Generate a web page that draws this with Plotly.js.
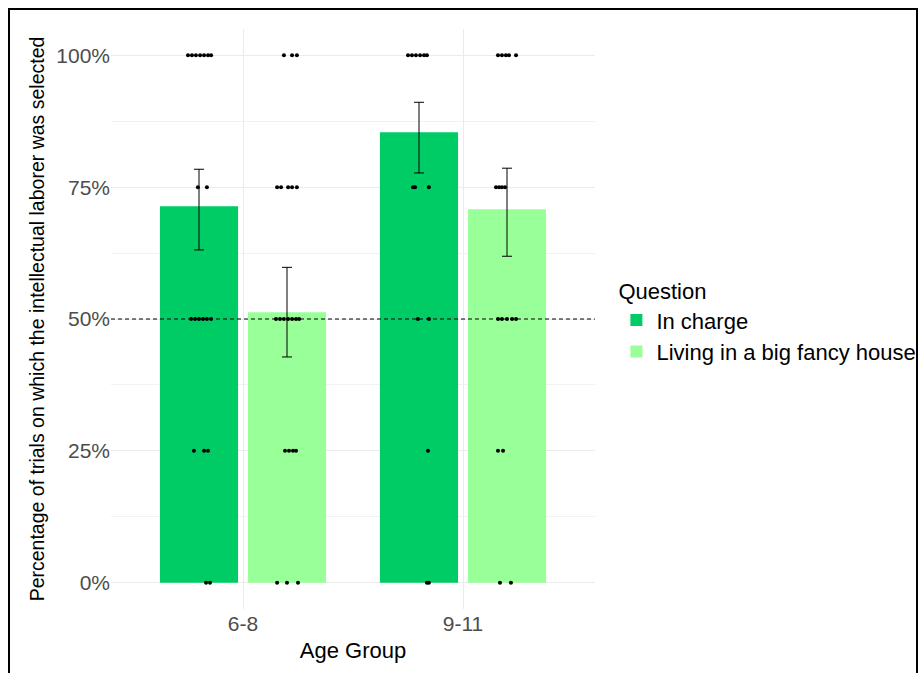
<!DOCTYPE html>
<html>
<head>
<meta charset="utf-8">
<script src="https://cdn.plot.ly/plotly-3.0.1.min.js"></script>
<style>
  html, body { margin: 0; padding: 0; background: #fff; overflow: hidden; }
  #frame { position: absolute; left: 8px; top: 8px; width: 910px; height: 700px; border: 2px solid #000; box-sizing: border-box; pointer-events: none; z-index: 5; }
  #chart { position: absolute; left: 0; top: 0; width: 920px; height: 673px; }
</style>
</head>
<body>
<div id="chart"></div>
<div id="frame"></div>
<script>
// ---- data ----
const ageGroups = ['6-8', '9-11'];
const questions = ['In charge', 'Living in a big fancy house'];
const colors = ['#00CC66', '#99FF99'];

const meanInCharge = [0.714, 0.854];
const lowInCharge  = [0.631, 0.777];
const highInCharge = [0.784, 0.911];

const meanLiving = [0.513, 0.708];
const lowLiving  = [0.428, 0.619];
const highLiving = [0.598, 0.786];

const yTickVals = [0, 0.25, 0.5, 0.75, 1];
const yTickText = ['0%', '25%', '50%', '75%', '100%'];

// individual participant scores (value) and their horizontal jitter (category units)
const dotsInCharge68 = [1,1,1,1,1,1,1, .75,.75, .5,.5,.5,.5,.5,.5, .25,.25,.25, 0,0];
const jitInCharge68  = [-.050,-.032,-.014,.005,.023,.041,.055, -.005,.036, -.036,-.018,0,.018,.036,.055, -.023,.023,.041, .032,.050];
const dotsLiving68   = [1,1,1, .75,.75,.75,.75,.75, .5,.5,.5,.5,.5,.5,.5, .25,.25,.25,.25, 0,0,0];
const jitLiving68    = [-.014,.023,.045, -.045,-.027,.005,.023,.045, -.050,-.032,-.014,.005,.023,.041,.055, -.009,.009,.027,.041, -.045,0,.050];
const dotsInCharge911 = [1,1,1,1,1,1, .75,.75,.75, .5,.5, .25, 0,0];
const jitInCharge911  = [-.050,-.032,-.014,.005,.023,.036, -.027,-.018,.045, -.005,.045, .041, .036,.045];
const dotsLiving911   = [1,1,1,1,1, .75,.75,.75,.75, .5,.5,.5,.5,.5, .25,.25, 0,0];
const jitLiving911    = [-.041,-.023,-.005,.009,.041, -.050,-.036,-.023,-.009, -.041,-.023,0,.023,.041, -.041,-.018, -.032,.018];

// ---- build ----
const dodge = 0.2;
const barWidth = 0.355;
const groupPos = ageGroups.map((_, i) => i);

function barTrace(name, means, lows, highs, color, shift) {
  return {
    type: 'bar', name: name,
    x: groupPos.map(p => p + shift), y: means,
    width: barWidth,
    marker: { color: color, line: { width: 0 } },
    error_y: {
      type: 'data', symmetric: false,
      array: highs.map((h, i) => h - means[i]),
      arrayminus: lows.map((l, i) => means[i] - l),
      color: '#000', thickness: 1, width: 5
    },
    hoverinfo: 'skip'
  };
}
function dotTrace(vals, jit, gIdx, shift) {
  return {
    type: 'scatter', mode: 'markers', showlegend: false,
    x: vals.map((_, i) => gIdx + shift + jit[i]), y: vals,
    marker: { color: '#000', size: 4 },
    hoverinfo: 'skip'
  };
}

const traces = [
  barTrace(questions[0], meanInCharge, lowInCharge, highInCharge, colors[0], -dodge),
  barTrace(questions[1], meanLiving, lowLiving, highLiving, colors[1], dodge),
  dotTrace(dotsInCharge68, jitInCharge68, 0, -dodge),
  dotTrace(dotsLiving68, jitLiving68, 0, dodge),
  dotTrace(dotsInCharge911, jitInCharge911, 1, -dodge),
  dotTrace(dotsLiving911, jitLiving911, 1, dodge)
];

const layout = {
  width: 920, height: 673,
  paper_bgcolor: '#fff', plot_bgcolor: '#fff',
  margin: { l: 111, r: 325, t: 29, b: 64 },
  font: { family: '"Liberation Sans", Arial, sans-serif', color: '#000' },
  barmode: 'overlay',
  showlegend: true,
  xaxis: {
    range: [-0.6, 1.6],
    tickvals: groupPos, ticktext: ageGroups,
    showgrid: true, gridcolor: '#ebebeb', gridwidth: 1,
    zeroline: false, showline: false, ticks: '',
    tickfont: { size: 21, color: '#4d4d4d' },
    title: { text: 'Age Group', font: { size: 22, color: '#000' }, standoff: 8 },
    fixedrange: true
  },
  yaxis: {
    range: [-0.05, 1.05],
    tickvals: yTickVals, ticktext: yTickText,
    showgrid: true, gridcolor: '#ebebeb', gridwidth: 1,
    minor: { tick0: 0, dtick: 0.125, showgrid: true, gridcolor: '#f2f2f2', gridwidth: 1 },
    zeroline: false, showline: false, ticks: '',
    tickfont: { size: 21, color: '#4d4d4d' },
    title: { text: 'Percentage of trials on which the intellectual laborer was selected', font: { size: 19.5, color: '#000' }, standoff: 6 },
    fixedrange: true
  },
  legend: {
    xref: 'container', yref: 'container',
    x: 0.670, xanchor: 'left', y: 0.598, yanchor: 'top',
    title: { text: 'Question', font: { size: 22, color: '#000' } },
    font: { size: 22, color: '#000' },
    bgcolor: 'rgba(0,0,0,0)', tracegroupgap: 0, itemsizing: 'constant'
  },
  shapes: [{
    type: 'line', xref: 'paper', x0: 0, x1: 1, yref: 'y', y0: 0.5, y1: 0.5,
    line: { color: '#000', width: 1, dash: '4px,3px' }, layer: 'above'
  }]
};

Plotly.newPlot('chart', traces, layout, { displayModeBar: false, staticPlot: true });
</script>
</body>
</html>
